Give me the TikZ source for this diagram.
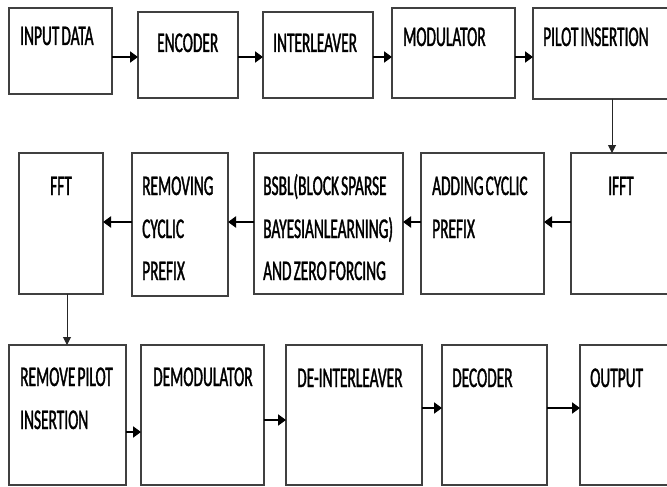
\documentclass[tikz,border=0pt]{standalone}
\usepackage{fontspec}
\setmainfont{Carlito}[FakeStretch=0.54, FakeBold=1.2, WordSpace=0.6]
\usetikzlibrary{arrows.meta}
\begin{document}
\begin{tikzpicture}[x=1pt,y=-1pt,
  box/.style={draw=black!75, line width=1.5pt, rectangle, anchor=north west, inner sep=0pt, outer sep=0pt},
  lbl/.style={anchor=base west, inner sep=0pt, font=\fontsize{28.5}{42}\selectfont, text=black},
  arr/.style={draw=black, line width=2pt, -{Triangle[length=8pt,width=11pt]}},
  varr/.style={draw=black!85, line width=1pt, -{Triangle[length=8pt,width=8pt]}},
  vline/.style={draw=black!85, line width=1pt}]
\useasboundingbox (0,0) rectangle (667,487);
\clip (0,0) rectangle (667,487);
\fill[white] (0,0) rectangle (667,487);
% row 1
\node[box, minimum width=103pt, minimum height=86pt] (in) at (9,8) {};
\node[box, minimum width=100pt, minimum height=86pt] (enc) at (138,12) {};
\node[box, minimum width=110pt, minimum height=86pt] (int) at (263,12) {};
\node[box, minimum width=123pt, minimum height=90pt] (mod) at (392,8) {};
\node[box, minimum width=150pt, minimum height=91pt] (pil) at (533,8) {};
% row 2
\node[box, minimum width=84pt, minimum height=141pt] (fft) at (19,153) {};
\node[box, minimum width=96pt, minimum height=143pt] (rcp) at (132,153) {};
\node[box, minimum width=149pt, minimum height=141pt] (bsbl) at (254,153) {};
\node[box, minimum width=123pt, minimum height=141pt] (acp) at (421,153) {};
\node[box, minimum width=110pt, minimum height=141pt] (ifft) at (571,153) {};
% row 3
\node[box, minimum width=117pt, minimum height=140pt] (rpi) at (9,345) {};
\node[box, minimum width=123pt, minimum height=140pt] (dem) at (141,345) {};
\node[box, minimum width=136pt, minimum height=140pt] (dei) at (286,345) {};
\node[box, minimum width=105pt, minimum height=140pt] (dec) at (442,345) {};
\node[box, minimum width=100pt, minimum height=140pt] (out) at (580,345) {};
% labels
\node[lbl] (tin) at (20,45) {INPUT DATA};
\node[lbl] (tenc) at (157,52) {ENCODER};
\node[lbl] (tint) at (273,52) {INTERLEAVER};
\node[lbl] (tmod) at (403,46) {MODULATOR};
\node[lbl] (tpil) at (543,46) {PILOT INSERTION};
\node[lbl] (tfft) at (50,195) {FFT};
\node[lbl] (trcp1) at (142,195) {REMOVING};
\node[lbl] (trcp2) at (142,238) {CYCLIC};
\node[lbl] (trcp3) at (142,280) {PREFIX};
\node[lbl] (tbs1) at (263,195) {BSBL(BLOCK SPARSE};
\node[lbl] (tbs2) at (263,238) {BAYESIANLEARNING)};
\node[lbl] (tbs3) at (263,280) {AND ZERO FORCING};
\node[lbl] (tacp1) at (432,195) {ADDING CYCLIC};
\node[lbl] (tacp2) at (432,238) {PREFIX};
\node[lbl] (tifft) at (608,195) {IFFT};
\node[lbl] (trpi1) at (20,386) {REMOVE PILOT};
\node[lbl] (trpi2) at (20,429) {INSERTION};
\node[lbl] (tdem) at (153,386) {DEMODULATOR};
\node[lbl] (tdei) at (297,387) {DE-INTERLEAVER};
\node[lbl] (tdec) at (452,387) {DECODER};
\node[lbl] (tout) at (590,387) {OUTPUT};
% connectors row 1
\draw[arr] (in.east |- 0,57) -- (enc.west |- 0,57);
\draw[arr] (enc.east |- 0,57) -- (int.west |- 0,57);
\draw[arr] (int.east |- 0,57) -- (mod.west |- 0,57);
\draw[arr] (mod.east |- 0,57) -- (pil.west |- 0,57);
% down
\draw[varr] (pil.south -| 612,0) -- (ifft.north -| 612,0);
% row 2
\draw[arr] (ifft.west |- 0,222) -- (acp.east |- 0,222);
\draw[arr] (acp.west |- 0,222) -- (bsbl.east |- 0,222);
\draw[arr] (bsbl.west |- 0,222) -- (rcp.east |- 0,222);
\draw[arr] (rcp.west |- 0,222) -- (fft.east |- 0,222);
% down
\draw[varr] (fft.south -| 67,0) -- (rpi.north -| 67,0);
% row 3
\draw[arr] (rpi.east |- 0,432) -- (dem.west |- 0,432);
\draw[arr] (dem.east |- 0,420) -- (dei.west |- 0,420);
\draw[arr] (dei.east |- 0,408) -- (dec.west |- 0,408);
\draw[arr] (dec.east |- 0,408) -- (out.west |- 0,408);
\end{tikzpicture}
\end{document}
